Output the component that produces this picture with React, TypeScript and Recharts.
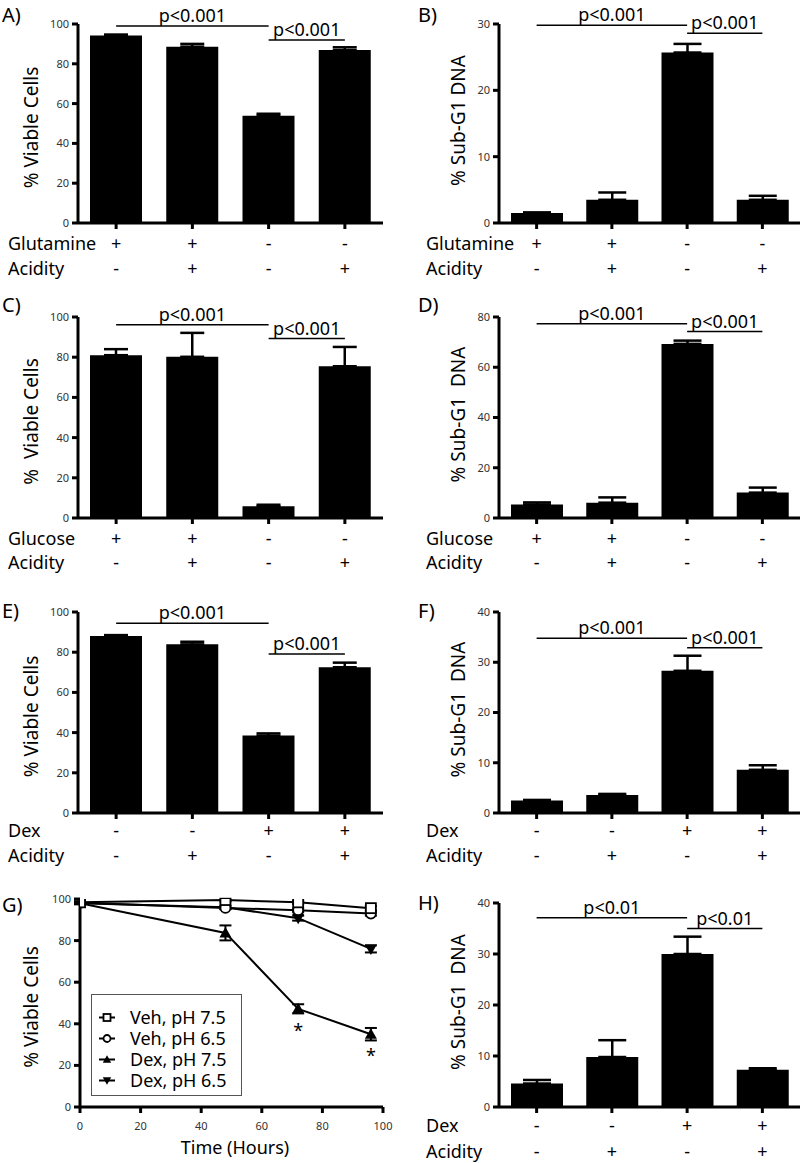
import React from 'react';
import {
  BarChart,
  Bar,
  XAxis,
  YAxis,
  ErrorBar,
  ReferenceLine,
  LineChart,
  Line,
  Legend,
  LabelList,
} from 'recharts';

const FONT = '"Noto Sans", "DejaVu Sans", sans-serif';

// ---------- data ----------
const categories = ['g1', 'g2', 'g3', 'g4'];
const glutamineRow = ['+', '+', '-', '-'];
const glucoseRow = ['+', '+', '-', '-'];
const dexRow = ['-', '-', '+', '+'];
const acidityRow = ['-', '+', '-', '+'];

const aViable = [94.2, 88.6, 53.9, 86.9];
const aErr = [0.5, 1.4, 1.0, 1.4];
const bSubG1 = [1.5, 3.5, 25.7, 3.5];
const bErr = [0.1, 1.1, 1.3, 0.6];
const cViable = [81.0, 80.2, 5.8, 75.5];
const cErr = [3.0, 11.9, 0.8, 9.6];
const dSubG1 = [5.4, 6.1, 69.3, 10.1];
const dErr = [0.8, 2.1, 1.3, 2.0];
const eViable = [88.1, 83.9, 38.5, 72.5];
const eErr = [0.4, 1.3, 1.1, 2.3];
const fSubG1 = [2.5, 3.6, 28.3, 8.6];
const fErr = [0.1, 0.2, 3.0, 0.9];
const hSubG1 = [4.6, 9.8, 30.0, 7.3];
const hErr = [0.7, 3.3, 3.4, 0.3];

// significance bar heights (first: group1->group3, second: group3->group4)
const aSig = [99, 92];
const bSig = [29.8, 28.6];
const cSig = [96.2, 89.3];
const dSig = [77.3, 74.2];
const eSig = [94.4, 79.1];
const fSig = [34.8, 32.9];
const hSig = [37.1, 35.0];

const viableTicks = [0, 20, 40, 60, 80, 100];
const sub30Ticks = [0, 10, 20, 30];
const sub80Ticks = [0, 20, 40, 60, 80];
const sub40Ticks = [0, 10, 20, 30, 40];

// time course (panel G)
const timeHours = [0, 48, 72, 96];
const timeTicks = [0, 20, 40, 60, 80, 100];
const veh75 = [98.4, 99.5, 98.4, 95.6];
const veh75Err = [0.5, 0.6, 0.8, 1.0];
const veh65 = [98.2, 95.7, 94.6, 93.0];
const veh65Err = [0.5, 0.6, 0.8, 1.0];
const dex75 = [98.0, 83.7, 47.2, 35.0];
const dex75Err = [0.5, 3.6, 2.2, 3.0];
const dex75Star = ['', '', '*', '*'];
const dex65 = [98.0, 96.0, 90.8, 76.0];
const dex65Err = [0.5, 0.8, 1.2, 1.7];
const seriesNames = ['Veh, pH 7.5', 'Veh, pH 6.5', 'Dex, pH 7.5', 'Dex, pH 6.5'];

// ---------- helpers ----------
type BarPanelProps = {
  left: number;
  top: number;
  width: number;
  axisW: number;
  rightMargin: number;
  plotH: number;
  height: number;
  values: number[];
  errors: number[];
  domain: [number, number];
  ticks: number[];
  yLabel: string;
  yLabelX: number;
  yLabelShift: number;
  rowNames: [string, string];
  row1: string[];
  row2: string[];
  rowLabelX: number;
  off1: number;
  off2: number;
  sig: number[];
  sigText: string;
  capW: number;
};

const axisLineStyle = { stroke: '#000', strokeWidth: 3 };

function BarPanel(p: BarPanelProps) {
  const plotTop = 24;
  const data = categories.map((id, i) => ({ id, v: p.values[i], err: [0, p.errors[i]] }));
  const xAxisH = p.height - plotTop - p.plotH;

  const tick = (props: any) => {
    const { x, y, payload } = props;
    const idx = categories.indexOf(payload.value);
    const base = y - 8;
    return (
      <g>
        <text x={x} y={base + p.off1} textAnchor="middle" fontSize={18} fill="#000">
          {p.row1[idx]}
        </text>
        <text x={x} y={base + p.off2} textAnchor="middle" fontSize={18} fill="#000">
          {p.row2[idx]}
        </text>
        {idx === 0 ? (
          <g>
            <text x={p.rowLabelX} y={base + p.off1} fontSize={18} fill="#000">
              {p.rowNames[0]}
            </text>
            <text x={p.rowLabelX} y={base + p.off2} fontSize={18} fill="#000">
              {p.rowNames[1]}
            </text>
          </g>
        ) : null}
      </g>
    );
  };

  const yLabelContent = () => (
    <text
      transform={`translate(${p.yLabelX},${plotTop + p.plotH / 2 + p.yLabelShift}) rotate(-90)`}
      textAnchor="middle"
      fontSize={19}
      fill="#000"
      style={{ whiteSpace: 'pre' }}
    >
      {p.yLabel}
    </text>
  );

  const sigLabel = { value: p.sigText, position: 'top' as const, offset: 4, fontSize: 18, fill: '#000' };

  return (
    <div style={{ position: 'absolute', left: p.left, top: p.top, width: p.width, height: p.height }}>
      <BarChart
        width={p.width}
        height={p.height}
        data={data}
        margin={{ top: plotTop, right: p.rightMargin, left: 0, bottom: 0 }}
        barSize={52}
      >
        <XAxis
          dataKey="id"
          height={xAxisH}
          interval={0}
          tick={tick}
          tickSize={6}
          tickMargin={2}
          tickLine={axisLineStyle}
          axisLine={axisLineStyle}
        />
        <YAxis
          width={p.axisW}
          domain={p.domain}
          ticks={p.ticks}
          allowDataOverflow
          interval={0}
          tickSize={6}
          tickMargin={3}
          tick={{ fontSize: 11, fill: '#333' }}
          tickLine={axisLineStyle}
          axisLine={axisLineStyle}
          label={{ content: yLabelContent }}
        />
        <Bar dataKey="v" fill="#000" isAnimationActive={false}>
          <ErrorBar
            dataKey="err"
            width={p.capW}
            strokeWidth={2.5}
            stroke="#000"
            direction="y"
            isAnimationActive={false}
          />
        </Bar>
        <ReferenceLine
          segment={[
            { x: categories[0], y: p.sig[0] },
            { x: categories[2], y: p.sig[0] },
          ]}
          stroke="#000"
          strokeWidth={1.5}
          ifOverflow="visible"
          label={sigLabel}
        />
        <ReferenceLine
          segment={[
            { x: categories[2], y: p.sig[1] },
            { x: categories[3], y: p.sig[1] },
          ]}
          stroke="#000"
          strokeWidth={1.5}
          ifOverflow="visible"
          label={sigLabel}
        />
      </BarChart>
    </div>
  );
}

// markers
const SquareMark = ({ cx, cy, s = 5 }: { cx: number; cy: number; s?: number }) => (
  <rect x={cx - s} y={cy - s} width={2 * s} height={2 * s} fill="#fff" stroke="#000" strokeWidth={1.8} />
);
const CircleMark = ({ cx, cy, s = 5 }: { cx: number; cy: number; s?: number }) => (
  <circle cx={cx} cy={cy} r={s} fill="#fff" stroke="#000" strokeWidth={1.8} />
);
const UpMark = ({ cx, cy, s = 5 }: { cx: number; cy: number; s?: number }) => (
  <polygon
    points={`${cx},${cy - s * 1.2} ${cx - s * 1.2},${cy + s * 0.9} ${cx + s * 1.2},${cy + s * 0.9}`}
    fill="#000"
  />
);
const DownMark = ({ cx, cy, s = 5 }: { cx: number; cy: number; s?: number }) => (
  <polygon
    points={`${cx},${cy + s * 1.2} ${cx - s * 1.2},${cy - s * 0.9} ${cx + s * 1.2},${cy - s * 0.9}`}
    fill="#000"
  />
);
const markers = [SquareMark, CircleMark, UpMark, DownMark];

const dotRenderer = (Mark: any) => (props: any) => {
  const { cx, cy, index } = props;
  return (
    <g key={`m-${index}`}>
      <Mark cx={cx} cy={cy} />
    </g>
  );
};

function toSeries(vals: number[], errs: number[], stars?: string[]) {
  return timeHours.map((x, i) => ({ x, y: vals[i], e: errs[i], star: stars ? stars[i] : '' }));
}

function TimePanel() {
  const left = 0;
  const top = 875;
  const width = 400;
  const height = 288;
  const plotTop = 24;
  const plotH = 208;
  const xAxisH = height - plotTop - plotH;

  const yLabelContent = () => (
    <text
      transform={`translate(38,${plotTop + plotH / 2 + 4}) rotate(-90)`}
      textAnchor="middle"
      fontSize={19}
      fill="#000"
    >
      % Viable Cells
    </text>
  );
  const xLabelContent = () => (
    <text x={235} y={279} textAnchor="middle" fontSize={18} fill="#000">
      Time (Hours)
    </text>
  );

  const legendContent = () => (
    <div
      style={{
        position: 'relative',
        width: 151,
        height: 102,
        border: '1.5px solid #555',
        boxSizing: 'border-box',
        background: '#fff',
        fontFamily: FONT,
      }}
    >
      {seriesNames.map((name, i) => {
        const Mark = markers[i];
        return (
          <div
            key={name}
            style={{
              position: 'absolute',
              left: 0,
              top: 22 + i * 21 - 10.5,
              height: 21,
              width: 148,
            }}
          >
            <svg width={30} height={21} style={{ position: 'absolute', left: 5, top: 0 }}>
              <line x1={2} y1={10.5} x2={18} y2={10.5} stroke="#000" strokeWidth={2} />
              <Mark cx={10} cy={10.5} s={3.5} />
            </svg>
            <span
              style={{
                position: 'absolute',
                left: 38,
                top: 0,
                lineHeight: '21px',
                fontSize: 18,
                whiteSpace: 'nowrap',
                color: '#000',
              }}
            >
              {name}
            </span>
          </div>
        );
      })}
    </div>
  );

  const starContent = (props: any) => {
    const { x, y, value, index } = props;
    if (!value) return <g key={`s-${index}`} />;
    return (
      <text key={`s-${index}`} x={x} y={y + 28} textAnchor="middle" fontSize={18} fill="#000">
        {value}
      </text>
    );
  };

  const seriesData = [
    toSeries(dex65, dex65Err),
    toSeries(dex75, dex75Err, dex75Star),
    toSeries(veh65, veh65Err),
    toSeries(veh75, veh75Err),
  ];
  const seriesMarks = [DownMark, UpMark, CircleMark, SquareMark];

  return (
    <div style={{ position: 'absolute', left, top, width, height }}>
      <LineChart width={width} height={height} margin={{ top: plotTop, right: 17, left: 0, bottom: 0 }}>
        <XAxis
          type="number"
          dataKey="x"
          domain={[0, 100]}
          ticks={timeTicks}
          allowDataOverflow
          interval={0}
          height={xAxisH}
          tickSize={6}
          tickMargin={9}
          tick={{ fontSize: 11, fill: '#333' }}
          tickLine={axisLineStyle}
          axisLine={axisLineStyle}
          label={{ content: xLabelContent }}
        />
        <YAxis
          width={80}
          domain={[0, 100]}
          ticks={viableTicks}
          allowDataOverflow
          interval={0}
          tickSize={6}
          tickMargin={3}
          tick={{ fontSize: 11, fill: '#333' }}
          tickLine={axisLineStyle}
          axisLine={axisLineStyle}
          label={{ content: yLabelContent }}
        />
        <Legend
          layout="horizontal"
          verticalAlign="middle"
          align="center"
          wrapperStyle={{ left: 91, top: 119, width: 151, height: 102 }}
          content={legendContent}
        />
        {seriesData.map((d, i) => (
          <Line
            key={`line-${i}`}
            data={d}
            dataKey="y"
            stroke="#000"
            strokeWidth={2}
            dot={dotRenderer(seriesMarks[i])}
            activeDot={false}
            isAnimationActive={false}
          >
            <ErrorBar
              dataKey="e"
              width={6}
              strokeWidth={2}
              stroke="#000"
              direction="y"
              isAnimationActive={false}
            />
            {i === 1 ? <LabelList dataKey="star" content={starContent} /> : null}
          </Line>
        ))}
      </LineChart>
    </div>
  );
}

const panelLetters = [
  { t: 'A)', x: 2, y: 22 },
  { t: 'B)', x: 418, y: 22 },
  { t: 'C)', x: 2, y: 312 },
  { t: 'D)', x: 418, y: 312 },
  { t: 'E)', x: 2, y: 618 },
  { t: 'F)', x: 418, y: 618 },
  { t: 'G)', x: 2, y: 912 },
  { t: 'H)', x: 418, y: 910 },
];

const leftCol = { width: 400, axisW: 78, rightMargin: 17, rowLabelX: 8, yLabelX: 38, yLabelShift: 4, capW: 12 };
const rightCol = { width: 405, axisW: 99, rightMargin: 5, rowLabelX: 26, yLabelX: 65, yLabelShift: -3, capW: 14 };

export default function App() {
  return (
    <div
      style={{
        position: 'absolute',
        left: 0,
        top: 0,
        width: 805,
        height: 1163,
        background: '#fff',
        fontFamily: FONT,
        overflow: 'hidden',
      }}
    >
      <BarPanel
        {...leftCol}
        left={0}
        top={0}
        plotH={199}
        height={290}
        values={aViable}
        errors={aErr}
        domain={[0, 100]}
        ticks={viableTicks}
        yLabel="% Viable Cells"
        rowNames={['Glutamine', 'Acidity']}
        row1={glutamineRow}
        row2={acidityRow}
        off1={27}
        off2={52}
        sig={aSig}
        sigText="p<0.001"
      />
      <BarPanel
        {...rightCol}
        left={400}
        top={0}
        plotH={199}
        height={290}
        values={bSubG1}
        errors={bErr}
        domain={[0, 30]}
        ticks={sub30Ticks}
        yLabel="% Sub-G1 DNA"
        rowNames={['Glutamine', 'Acidity']}
        row1={glutamineRow}
        row2={acidityRow}
        off1={27}
        off2={52}
        sig={bSig}
        sigText="p<0.001"
      />
      <BarPanel
        {...leftCol}
        left={0}
        top={293}
        plotH={201}
        height={290}
        values={cViable}
        errors={cErr}
        domain={[0, 100]}
        ticks={viableTicks}
        yLabel={'%\u00A0 Viable Cells'}
        rowNames={['Glucose', 'Acidity']}
        row1={glucoseRow}
        row2={acidityRow}
        off1={27}
        off2={51}
        sig={cSig}
        sigText="p<0.001"
      />
      <BarPanel
        {...rightCol}
        left={400}
        top={293}
        plotH={201}
        height={290}
        values={dSubG1}
        errors={dErr}
        domain={[0, 80]}
        ticks={sub80Ticks}
        yLabel={'% Sub-G1\u00A0 DNA'}
        rowNames={['Glucose', 'Acidity']}
        row1={glucoseRow}
        row2={acidityRow}
        off1={27}
        off2={51}
        sig={dSig}
        sigText="p<0.001"
      />
      <BarPanel
        {...leftCol}
        left={0}
        top={588}
        plotH={201}
        height={287}
        values={eViable}
        errors={eErr}
        domain={[0, 100]}
        ticks={viableTicks}
        yLabel="% Viable Cells"
        rowNames={['Dex', 'Acidity']}
        row1={dexRow}
        row2={acidityRow}
        off1={24}
        off2={49}
        sig={eSig}
        sigText="p<0.001"
      />
      <BarPanel
        {...rightCol}
        left={400}
        top={588}
        plotH={201}
        height={287}
        values={fSubG1}
        errors={fErr}
        domain={[0, 40]}
        ticks={sub40Ticks}
        yLabel={'% Sub-G1\u00A0 DNA'}
        rowNames={['Dex', 'Acidity']}
        row1={dexRow}
        row2={acidityRow}
        off1={24}
        off2={49}
        sig={fSig}
        sigText="p<0.001"
      />
      <TimePanel />
      <BarPanel
        {...rightCol}
        left={400}
        top={879}
        plotH={204}
        height={284}
        values={hSubG1}
        errors={hErr}
        domain={[0, 40]}
        ticks={sub40Ticks}
        yLabel={'% Sub-G1\u00A0 DNA'}
        rowNames={['Dex', 'Acidity']}
        row1={dexRow}
        row2={acidityRow}
        off1={25}
        off2={51}
        sig={hSig}
        sigText="p<0.01"
      />
      <svg
        width={805}
        height={1163}
        style={{ position: 'absolute', left: 0, top: 0, pointerEvents: 'none' }}
      >
        {panelLetters.map((l) => (
          <text key={l.t} x={l.x} y={l.y} fontSize={20} fill="#000" fontFamily={FONT}>
            {l.t}
          </text>
        ))}
      </svg>
    </div>
  );
}
